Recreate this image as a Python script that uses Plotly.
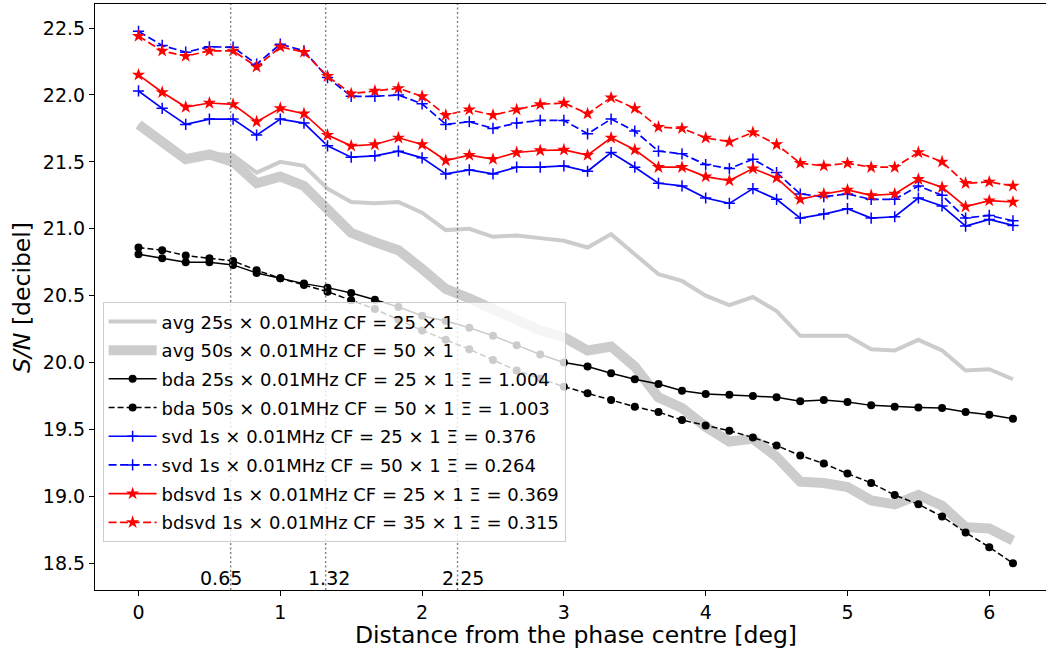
import plotly.graph_objects as go

# Distance from phase centre [deg]
distance = [0.000, 0.167, 0.333, 0.500, 0.667, 0.833, 1.000, 1.167, 1.333, 1.500,
            1.667, 1.833, 2.000, 2.167, 2.333, 2.500, 2.667, 2.833, 3.000, 3.167,
            3.333, 3.500, 3.667, 3.833, 4.000, 4.167, 4.333, 4.500, 4.667, 4.833,
            5.000, 5.167, 5.333, 5.500, 5.667, 5.833, 6.000, 6.167]

avg25 = [21.78, 21.65, 21.52, 21.56, 21.55, 21.42, 21.50, 21.47, 21.30, 21.20,
         21.19, 21.20, 21.12, 20.99, 21.00, 20.94, 20.95, 20.93, 20.91, 20.86,
         20.96, 20.81, 20.66, 20.61, 20.50, 20.43, 20.49, 20.385, 20.20, 20.20,
         20.20, 20.10, 20.09, 20.17, 20.09, 19.94, 19.95, 19.875]
avg50 = [21.78, 21.66, 21.52, 21.555, 21.50, 21.34, 21.39, 21.32, 21.14, 20.97,
         20.90, 20.84, 20.70, 20.55, 20.48, 20.39, 20.32, 20.24, 20.19, 20.09,
         20.12, 19.97, 19.74, 19.66, 19.52, 19.41, 19.43, 19.295, 19.11, 19.10,
         19.07, 18.97, 18.94, 19.01, 18.93, 18.77, 18.76, 18.67]
bda25 = [20.81, 20.78, 20.75, 20.75, 20.73, 20.67, 20.63, 20.59, 20.56, 20.52,
         20.47, 20.415, 20.35, 20.31, 20.26, 20.20, 20.13, 20.06, 20.00, 19.97,
         19.92, 19.875, 19.84, 19.79, 19.765, 19.76, 19.75, 19.74, 19.71, 19.72,
         19.705, 19.68, 19.67, 19.665, 19.66, 19.63, 19.61, 19.58]
bda50 = [20.86, 20.84, 20.80, 20.78, 20.76, 20.69, 20.63, 20.58, 20.53, 20.465,
         20.40, 20.32, 20.24, 20.17, 20.10, 20.02, 19.94, 19.88, 19.82, 19.77,
         19.72, 19.67, 19.63, 19.57, 19.53, 19.49, 19.44, 19.38, 19.305, 19.245,
         19.17, 19.10, 19.01, 18.94, 18.85, 18.73, 18.62, 18.50]
svd25 = [22.03, 21.90, 21.78, 21.82, 21.82, 21.70, 21.82, 21.79, 21.62, 21.535,
         21.545, 21.58, 21.53, 21.41, 21.44, 21.41, 21.46, 21.46, 21.47, 21.43,
         21.57, 21.46, 21.34, 21.32, 21.23, 21.19, 21.30, 21.22, 21.08, 21.11,
         21.15, 21.08, 21.09, 21.23, 21.17, 21.02, 21.07, 21.025]
svd50 = [22.476, 22.37, 22.32, 22.36, 22.357, 22.23, 22.38, 22.33, 22.13, 21.99,
         21.99, 22.00, 21.934, 21.78, 21.80, 21.75, 21.79, 21.81, 21.81, 21.71,
         21.82, 21.73, 21.58, 21.56, 21.48, 21.45, 21.52, 21.42, 21.26, 21.24,
         21.26, 21.22, 21.22, 21.32, 21.25, 21.08, 21.10, 21.06]
bdsvd25 = [22.15, 22.02, 21.91, 21.94, 21.93, 21.80, 21.90, 21.86, 21.70, 21.62,
           21.63, 21.68, 21.63, 21.51, 21.55, 21.52, 21.57, 21.585, 21.59, 21.55,
           21.68, 21.59, 21.46, 21.46, 21.39, 21.36, 21.45, 21.38, 21.22, 21.26,
           21.29, 21.25, 21.26, 21.37, 21.31, 21.165, 21.21, 21.20]
bdsvd35 = [22.44, 22.33, 22.29, 22.33, 22.33, 22.21, 22.36, 22.32, 22.14, 22.01,
           22.03, 22.05, 21.99, 21.85, 21.89, 21.85, 21.89, 21.93, 21.94, 21.86,
           21.98, 21.90, 21.76, 21.75, 21.68, 21.65, 21.72, 21.63, 21.49, 21.47,
           21.49, 21.46, 21.46, 21.57, 21.50, 21.34, 21.35, 21.32]

labels = [
    "avg 25s × 0.01MHz CF = 25 × 1",
    "avg 50s × 0.01MHz CF = 50 × 1",
    "bda 25s × 0.01MHz CF = 25 × 1 Ξ = 1.004",
    "bda 50s × 0.01MHz CF = 50 × 1 Ξ = 1.003",
    "svd 1s × 0.01MHz CF = 25 × 1 Ξ = 0.376",
    "svd 1s × 0.01MHz CF = 50 × 1 Ξ = 0.264",
    "bdsvd 1s × 0.01MHz CF = 25 × 1 Ξ = 0.369",
    "bdsvd 1s × 0.01MHz CF = 35 × 1 Ξ = 0.315",
]
vlines = [0.65, 1.32, 2.25]
vline_labels = ["0.65", "1.32", "2.25"]
vline_label_x = [0.58, 1.343, 2.288]

FONT = "DejaVu Sans"
GRAY = "#cccccc"
fig = go.Figure()

def add(y, k, line, marker=None):
    fig.add_trace(go.Scatter(x=distance, y=y, name=labels[k], legendgroup=f"g{k}",
                             mode="lines+markers" if marker else "lines",
                             line=line, marker=marker))

add(avg25, 0, dict(color=GRAY, width=4))
add(avg50, 1, dict(color=GRAY, width=10))
add(bda25, 2, dict(color="black", width=1.5),
    dict(symbol="circle", size=8, color="black"))
add(bda50, 3, dict(color="black", width=1.5, dash="6px,3px"),
    dict(symbol="circle", size=8, color="black"))
add(svd25, 4, dict(color="#0000ff", width=1.7),
    dict(symbol="cross-thin", size=8, color="#0000ff", line=dict(color="#0000ff", width=1.5)))
add(svd50, 5, dict(color="#0000ff", width=1.7, dash="8px,3.5px"),
    dict(symbol="cross-thin", size=8, color="#0000ff", line=dict(color="#0000ff", width=1.5)))
add(bdsvd25, 6, dict(color="#ff0000", width=1.7),
    dict(symbol="star", size=10, color="#ff0000"))
add(bdsvd35, 7, dict(color="#ff0000", width=1.7, dash="8px,3.5px"),
    dict(symbol="star", size=10, color="#ff0000"))

for xv in vlines:
    fig.add_shape(type="line", xref="x", yref="paper", x0=xv, x1=xv, y0=0, y1=1,
                  line=dict(color="#808080", width=1.4, dash="2px,2.5px"), layer="above")

for xt, txt in zip(vline_label_x, vline_labels):
    fig.add_annotation(x=xt, y=0.021, xref="x", yref="paper", text=txt, showarrow=False,
                       xanchor="center", yanchor="middle",
                       font=dict(family=FONT, size=19, color="black"))

fig.add_annotation(x=0.5058, y=-0.0765, xref="paper", yref="paper",
                   text="Distance from the phase centre [deg]", showarrow=False,
                   xanchor="center", yanchor="middle", borderpad=0,
                   font=dict(family=FONT, size=23.5, color="black"))
fig.add_annotation(x=-0.0768, y=0.5, xref="paper", yref="paper",
                   text="<i>S/N</i> [decibel]", showarrow=False, textangle=-90,
                   xanchor="center", yanchor="middle",
                   font=dict(family=FONT, size=23.5, color="black"))

fig.update_layout(
    width=1046, height=650,
    margin=dict(l=95, r=0, t=4, b=60),
    paper_bgcolor="white", plot_bgcolor="white",
    font=dict(family=FONT, size=19, color="black"),
    showlegend=True,
    legend=dict(x=0.008, y=0.4910, xanchor="left", yanchor="top",
                bgcolor="rgba(255,255,255,0.8)", bordercolor="#cccccc", borderwidth=1,
                font=dict(family=FONT, size=18, color="black"), itemwidth=48,
                tracegroupgap=2.3),
    xaxis=dict(range=[-0.3068, 6.400], tickmode="array", tickvals=[0, 1, 2, 3, 4, 5, 6],
               ticks="outside", ticklen=5, tickcolor="black", showline=True,
               linecolor="black", linewidth=1.1, mirror=True, showgrid=False,
               zeroline=False, tickfont=dict(size=19)),
    yaxis=dict(range=[18.30, 22.68], tickmode="array",
               tickvals=[18.5, 19.0, 19.5, 20.0, 20.5, 21.0, 21.5, 22.0, 22.5],
               ticktext=["18.5", "19.0", "19.5", "20.0", "20.5", "21.0", "21.5", "22.0", "22.5"],
               ticks="outside", ticklen=5, tickcolor="black", showline=True,
               linecolor="black", linewidth=1.1, mirror=False, showgrid=False,
               zeroline=False, tickfont=dict(size=19)),
)

fig.write_html("out.html")
